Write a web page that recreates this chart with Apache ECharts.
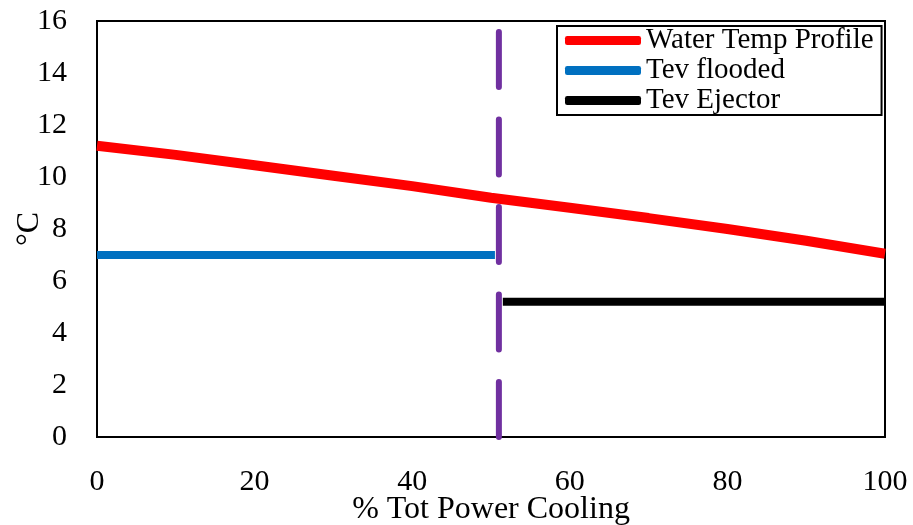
<!DOCTYPE html>
<html>
<head>
<meta charset="utf-8">
<script src="https://cdn.jsdelivr.net/npm/echarts@6/dist/echarts.min.js"></script>
<style>
html,body{margin:0;padding:0;background:#fff;}
#chart{width:913px;height:525px;}
</style>
</head>
<body>
<div id="chart"></div>
<script>
var waterX = [0, 10, 20, 30, 40, 50, 60, 70, 80, 90, 100];
var waterY = [11.2, 10.85, 10.45, 10.05, 9.65, 9.2, 8.82, 8.42, 8.0, 7.55, 7.05];
var floodedX = [0, 50.5];
var floodedY = [7.0, 7.0];
var ejectorX = [51.5, 100];
var ejectorY = [5.2, 5.2];
var dividerX = [51, 51];
var dividerY = [0, 16];
var seriesNames = ['Water Temp Profile', 'Tev flooded', 'Tev Ejector'];

function pairs(xs, ys) { return xs.map(function (x, i) { return [x, ys[i]]; }); }

var font = 'Liberation Serif, Times New Roman, serif';
var chart = echarts.init(document.getElementById('chart'));
chart.setOption({
  animation: false,
  backgroundColor: '#fff',
  grid: { left: 97, right: 28, top: 21, bottom: 88, show: true, borderColor: '#000', borderWidth: 2,
          backgroundColor: 'transparent', containLabel: false, outerBoundsMode: 'none' },
  legend: {
    data: seriesNames,
    orient: 'vertical',
    left: 557, top: 26,
    padding: [0, 8, 0, 8],
    itemGap: 1,
    itemWidth: 76, itemHeight: 9,
    icon: 'roundRect',
    borderColor: '#000', borderWidth: 2,
    backgroundColor: '#fff',
    textStyle: { fontFamily: font, fontSize: 29, lineHeight: 28, color: '#000' }
  },
  xAxis: {
    type: 'value', min: 0, max: 100, interval: 20,
    name: '% Tot Power Cooling', nameLocation: 'middle', nameGap: 57, nameMoveOverlap: false,
    nameTextStyle: { fontFamily: font, fontSize: 32, color: '#000' },
    axisLine: { show: true, lineStyle: { color: '#000', width: 2 } },
    axisTick: { show: false },
    splitLine: { show: false },
    axisLabel: { fontFamily: font, fontSize: 30, color: '#000', margin: 30 }
  },
  yAxis: {
    type: 'value', min: 0, max: 16, interval: 2,
    name: '°C', nameLocation: 'middle', nameGap: 51, nameRotate: 90, nameMoveOverlap: false,
    nameTextStyle: { fontFamily: font, fontSize: 32, color: '#000' },
    axisLine: { show: true, lineStyle: { color: '#000', width: 2 } },
    axisTick: { show: false },
    splitLine: { show: false },
    axisLabel: { fontFamily: font, fontSize: 30, color: '#000', margin: 30 }
  },
  series: [
    { name: seriesNames[0], type: 'line', data: pairs(waterX, waterY), showSymbol: false, symbol: 'none',
      itemStyle: { color: '#FF0000' }, lineStyle: { color: '#FF0000', width: 10 }, z: 3 },
    { name: seriesNames[1], type: 'line', data: pairs(floodedX, floodedY), showSymbol: false, symbol: 'none',
      itemStyle: { color: '#0070C0' }, lineStyle: { color: '#0070C0', width: 8 }, z: 2 },
    { name: seriesNames[2], type: 'line', data: pairs(ejectorX, ejectorY), showSymbol: false, symbol: 'none',
      itemStyle: { color: '#000000' }, lineStyle: { color: '#000000', width: 8 }, z: 2 },
    { name: 'divider', type: 'line', data: pairs(dividerX, dividerY), showSymbol: false, symbol: 'none',
      itemStyle: { color: '#7030A0' }, lineStyle: { color: '#7030A0', width: 6, type: [55, 32.5], cap: 'round' }, z: 4 }
  ]
});
</script>
</body>
</html>
